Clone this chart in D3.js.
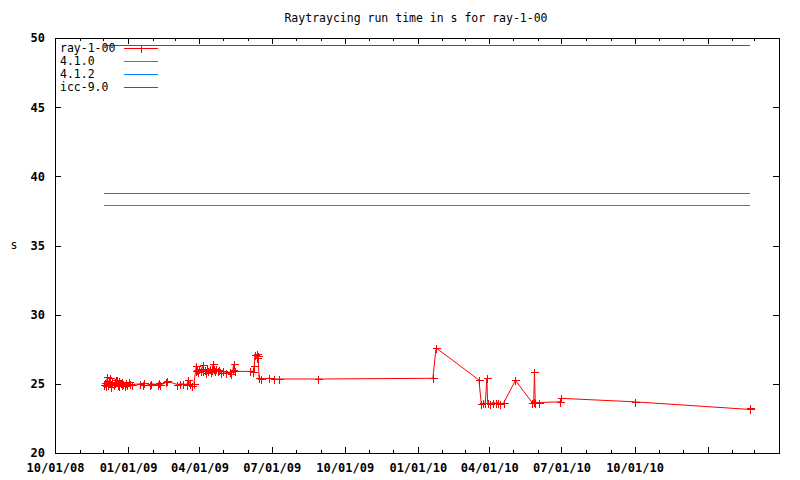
<!DOCTYPE html>
<html>
<head>
<meta charset="utf-8">
<script src="https://cdn.jsdelivr.net/npm/d3@7/dist/d3.min.js"></script>
<style>
  html, body { margin: 0; padding: 0; background: #fff; }
  svg { display: block; }
  text { font-family: "DejaVu Sans Mono", monospace; fill: #000; }
</style>
</head>
<body>
<svg id="chart" width="800" height="480"></svg>
<script>
// ---- data ----
const chartTitle = "Raytraycing run time in s for ray-1-00";
const yLabel = "s";
const rayName = "ray-1-00";
const rayDates = [
  "2008-12-02","2008-12-03","2008-12-04","2008-12-05","2008-12-06","2008-12-07","2008-12-08",
  "2008-12-09","2008-12-10","2008-12-11","2008-12-12","2008-12-14","2008-12-15","2008-12-17",
  "2008-12-18","2008-12-19","2008-12-20","2008-12-21","2008-12-23","2008-12-24","2008-12-25",
  "2008-12-26","2008-12-28","2008-12-29","2008-12-31","2009-01-02","2009-01-04","2009-01-06",
  "2009-01-16","2009-01-20","2009-01-21","2009-01-29","2009-01-30","2009-02-08","2009-02-09",
  "2009-02-10","2009-02-18","2009-02-19","2009-03-04","2009-03-08","2009-03-11","2009-03-16",
  "2009-03-18","2009-03-20","2009-03-23","2009-03-25","2009-03-27","2009-03-28","2009-03-29",
  "2009-03-30","2009-04-01","2009-04-03","2009-04-05","2009-04-06","2009-04-08","2009-04-09",
  "2009-04-11","2009-04-12","2009-04-14","2009-04-15","2009-04-17","2009-04-18","2009-04-19",
  "2009-04-20","2009-04-22","2009-04-24","2009-04-26","2009-04-28","2009-05-01","2009-05-04",
  "2009-05-09","2009-05-11","2009-05-13","2009-05-14","2009-05-16","2009-06-04","2009-06-07",
  "2009-06-09","2009-06-10","2009-06-12","2009-06-13","2009-06-14","2009-06-15","2009-06-17",
  "2009-06-28","2009-07-04","2009-07-10","2009-08-28","2010-01-20","2010-01-24","2010-03-19",
  "2010-03-22","2010-03-24","2010-03-27","2010-03-29","2010-03-30","2010-03-31","2010-04-02",
  "2010-04-06","2010-04-09","2010-04-12","2010-04-15","2010-04-19","2010-05-04","2010-05-25",
  "2010-05-27","2010-05-28","2010-05-29","2010-06-03","2010-06-29","2010-07-01","2010-10-01",
  "2011-02-23","2011-02-24"
];
const rayValues = [
  24.95,25.05,24.85,25.2,25.5,24.9,25.05,
  25.45,24.8,25.0,25.15,24.9,25.1,25.3,
  25.3,24.95,25.2,24.85,25.05,25.1,24.9,
  25.0,24.85,25.05,24.95,25.1,25.0,24.95,
  25.0,24.9,25.05,24.95,25.0,24.95,25.05,
  24.9,25.1,25.2,24.95,25.0,25.0,24.95,
  25.3,25.0,24.85,25.0,25.9,26.3,26.0,
  25.85,26.1,25.95,26.35,25.9,26.0,25.8,
  26.05,25.9,26.1,25.85,26.0,26.4,26.1,
  25.95,26.05,25.9,26.0,25.8,25.9,25.8,
  25.85,25.7,26.0,26.4,25.9,25.9,25.85,
  26.3,27.1,26.9,27.15,27.0,25.4,25.35,
  25.4,25.35,25.35,25.35,25.4,27.6,25.28,
  23.55,23.6,23.6,25.4,23.65,23.6,23.55,
  23.65,23.6,23.65,23.55,23.6,25.25,23.65,
  23.7,25.85,23.6,23.65,23.7,23.95,23.7,
  23.15,23.25
];
const refNames = ["4.1.0", "4.1.2", "icc-9.0"];
const refValues = [37.91, 38.78, 49.5];
const yTicks = [20, 25, 30, 35, 40, 45, 50];
const xDomain = ["2008-10-01", "2011-04-01"];
const xMajorTicks = ["2008-10-01","2009-01-01","2009-04-01","2009-07-01","2009-10-01",
                     "2010-01-01","2010-04-01","2010-07-01","2010-10-01","2011-01-01"];
const xTickLabels = ["10/01/08","01/01/09","04/01/09","07/01/09","10/01/09",
                     "01/01/10","04/01/10","07/01/10","10/01/10",""];

// ---- styles ----
const rayColor = "#ff0000";
const refColors = ["#00c000", "#0080ff", "#c000ff"];

const parse = d3.timeParse("%Y-%m-%d");
const L = 55, R = 779, T = 38, B = 453;

const x = d3.scaleTime().domain(xDomain.map(parse)).range([L, R]);
const y = d3.scaleLinear().domain([20, 50]).range([B, T]);

const svg = d3.select("#chart");

// Title
svg.append("text").attr("x", 416).attr("y", 22).attr("text-anchor", "middle")
  .style("font-size", "11.5px").text(chartTitle);
// Y label
svg.append("text").attr("x", 14).attr("y", 249).attr("text-anchor", "middle")
  .style("font-size", "11.5px").text(yLabel);

const gAx = svg.append("g").attr("shape-rendering", "crispEdges");

// Y axis left (ticks inward)
const yAxisL = d3.axisLeft(y).tickValues(yTicks).tickSize(-6).tickPadding(10).tickFormat(d3.format("d"));
gAx.append("g").attr("transform", `translate(${L},0)`).call(yAxisL)
  .call(g => g.select(".domain").remove())
  .call(g => g.selectAll("text").style("font-size", "12px").style("font-weight", "bold")
        .style("font-family", "'DejaVu Sans Mono', monospace"));
// Y axis right (ticks inward)
const yAxisR = d3.axisRight(y).tickValues(yTicks).tickSize(-6).tickFormat("");
gAx.append("g").attr("transform", `translate(${R},0)`).call(yAxisR)
  .call(g => g.select(".domain").remove());

// X minor ticks (monthly)
const months = d3.timeMonth.range(parse(xDomain[0]), d3.timeDay.offset(parse(xDomain[1]), 1));
const xMinor = d3.axisBottom(x).tickValues(months).tickSize(-3).tickFormat("");
gAx.append("g").attr("transform", `translate(0,${B})`).call(xMinor).call(g => g.select(".domain").remove());
const xMinorTop = d3.axisTop(x).tickValues(months).tickSize(-3).tickFormat("");
gAx.append("g").attr("transform", `translate(0,${T})`).call(xMinorTop).call(g => g.select(".domain").remove());

// X major ticks
const majors = xMajorTicks.map(parse);
const xMajor = d3.axisBottom(x).tickValues(majors).tickSize(-6).tickPadding(10)
  .tickFormat((d, i) => xTickLabels[i]);
gAx.append("g").attr("transform", `translate(0,${B})`).call(xMajor)
  .call(g => g.select(".domain").remove())
  .call(g => g.selectAll("text").style("font-size", "12px").style("font-weight", "bold")
        .style("font-family", "'DejaVu Sans Mono', monospace"));
const xMajorTop = d3.axisTop(x).tickValues(majors).tickSize(-6).tickFormat("");
gAx.append("g").attr("transform", `translate(0,${T})`).call(xMajorTop).call(g => g.select(".domain").remove());

gAx.selectAll(".tick line").attr("stroke", "#000");

// Frame
gAx.append("rect").attr("x", L + 0.5).attr("y", T + 0.5).attr("width", R - L).attr("height", B - T)
  .attr("fill", "none").attr("stroke", "#000").attr("stroke-width", 1.2);

// Reference horizontal lines spanning data range
const dParsed = rayDates.map(parse);
const x0 = d3.min(dParsed), x1 = d3.max(dParsed);
refValues.forEach((v, i) => {
  svg.append("line").attr("shape-rendering", "crispEdges")
    .attr("x1", x(x0)).attr("x2", x(x1)).attr("y1", Math.round(y(v)) + 0.5).attr("y2", Math.round(y(v)) + 0.5)
    .attr("stroke", refColors[i]).attr("stroke-width", 1);
});

// Ray series line
const pts = dParsed.map((d, i) => [d, rayValues[i]]);
const line = d3.line().x(d => x(d[0])).y(d => y(d[1]));
svg.append("path").datum(pts).attr("d", line).attr("fill", "none")
  .attr("stroke", rayColor).attr("stroke-width", 1);
// Markers
const cs = 4;
svg.append("g").selectAll("path").data(pts).join("path")
  .attr("d", d => {
    const px = Math.round(x(d[0])) + 0.5, py = Math.round(y(d[1])) + 0.5;
    return `M${px - cs},${py}H${px + cs}M${px},${py - cs}V${py + cs}`;
  })
  .attr("stroke", rayColor).attr("stroke-width", 1).attr("shape-rendering", "crispEdges");

// Legend
const legendItems = [rayName, ...refNames];
const legendColors = [rayColor, ...refColors];
const lg = svg.append("g");
legendItems.forEach((name, i) => {
  const ly = 48 + i * 13;
  lg.append("text").attr("x", 60).attr("y", ly + 4).style("font-size", "11.5px").text(name);
  lg.append("line").attr("x1", 124).attr("x2", 158).attr("y1", ly + 0.5).attr("y2", ly + 0.5)
    .attr("stroke", legendColors[i]).attr("shape-rendering", "crispEdges");
  if (i === 0) {
    lg.append("path").attr("d", `M${141.5 - cs},${ly + 0.5}H${141.5 + cs}M141.5,${ly + 0.5 - cs}V${ly + 0.5 + cs}`)
      .attr("stroke", rayColor).attr("shape-rendering", "crispEdges");
  }
});
</script>
</body>
</html>
